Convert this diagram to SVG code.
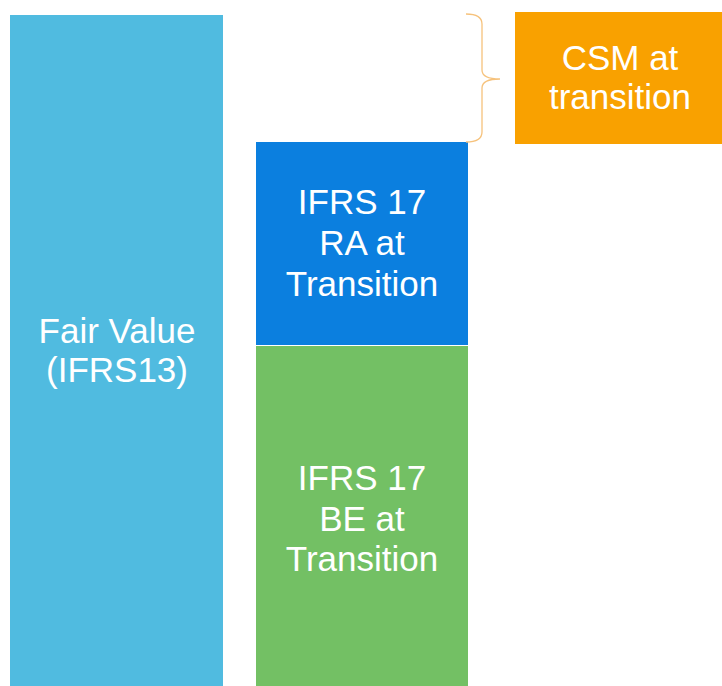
<svg xmlns="http://www.w3.org/2000/svg" width="722" height="686" viewBox="0 0 722 686">
  <style>
    .lbl { font-family: "Liberation Sans", Arial, sans-serif; font-size: 35px; fill: #ffffff; text-anchor: middle; }
  </style>
  <rect width="722" height="686" fill="#ffffff"/>
  <g id="fair-value">
    <rect x="10" y="15" width="213" height="671" fill="#50BBE0"/>
    <text class="lbl" x="117" y="343">Fair Value</text>
    <text class="lbl" x="117" y="382">(IFRS13)</text>
  </g>
  <g id="ra">
    <rect x="256" y="142" width="212" height="203" fill="#0B7FDF"/>
    <text class="lbl" x="362" y="214">IFRS 17</text>
    <text class="lbl" x="362" y="255">RA at</text>
    <text class="lbl" x="362" y="296">Transition</text>
  </g>
  <g id="be">
    <rect x="256" y="346" width="212" height="340" fill="#73C064"/>
    <text class="lbl" x="362" y="490">IFRS 17</text>
    <text class="lbl" x="362" y="531">BE at</text>
    <text class="lbl" x="362" y="571">Transition</text>
  </g>
  <g id="csm">
    <rect x="515" y="12" width="207" height="132" fill="#F9A100"/>
    <text class="lbl" x="620" y="70">CSM at</text>
    <text class="lbl" x="620" y="109">transition</text>
  </g>
  <g id="connectors">
    <path d="M466,14 Q482,14 482,24 L482,70 Q482,79 500,79 Q482,79 482,88 L482,132 Q482,142 466,142" fill="none" stroke="#F6C27C" stroke-width="1.3"/>
  </g>
</svg>
